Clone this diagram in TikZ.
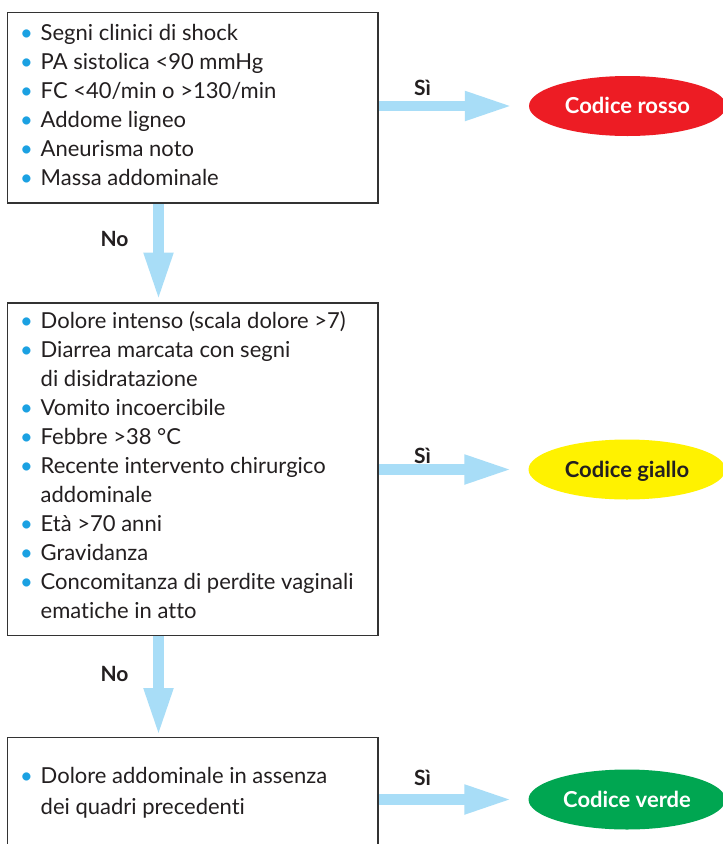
\documentclass[tikz,border=0pt]{standalone}
\usepackage{fontspec}
\setmainfont{Lato}[Ligatures={NoCommon}]
\usetikzlibrary{arrows.meta,shapes.geometric}
\definecolor{boxline}{HTML}{333333}
\definecolor{txt}{HTML}{231F20}
\definecolor{bul}{HTML}{1BA1E2}
\definecolor{arr}{HTML}{A8DDF7}
\definecolor{cred}{HTML}{ED1C24}
\definecolor{cyel}{HTML}{FFF200}
\definecolor{cgrn}{HTML}{00A651}
\newcommand\bl{\makebox[20.5pt][l]{\textcolor{bul}{•}}}
\newcommand\ind{\hspace*{20.5pt}}
\newcommand\fst{\rule{0pt}{18pt}}
\begin{document}
\begin{tikzpicture}[x=1pt,y=-1pt,
  frame/.style={draw=boxline,line width=1pt,inner sep=0pt,anchor=north west},
  listtext/.style={inner sep=0pt,anchor=north west,align=left,text=txt,font=\fontsize{22}{29}\selectfont},
  lab/.style={inner sep=0pt,anchor=base,text=txt,font=\bfseries\fontsize{21}{25}\selectfont},
  code/.style={ellipse,minimum width=197pt,minimum height=60pt,inner sep=0pt,text height=15.8pt,text depth=0pt,font=\bfseries\fontsize{22}{26}\selectfont},
  rarrow/.style={draw=arr,line width=10.5pt,-{Triangle[length=48pt,width=27pt]},shorten >=16pt},
  darrow/.style={draw=arr,line width=10.5pt,-{Triangle[length=48pt,width=27pt]}}
]
\useasboundingbox (0,0) rectangle (723,844);
\clip (0,0) rectangle (723,844);
\fill[white] (0,0) rectangle (723,844);

% code ellipses
\node[code,fill=cred,text=white] (r1) at (627.5,106) {Codice rosso};
\node[code,fill=cyel,text=txt] (r2) at (627,469.5) {Codice giallo};
\node[code,fill=cgrn,text=white] (r3) at (627,799.5) {Codice verde};

% boxes
\node[frame,minimum width=370pt,minimum height=190pt] (b1) at (7,12) {};
\node[frame,minimum width=370pt,minimum height=332pt] (b2) at (7,302.5) {};
\node[frame,minimum width=370pt,minimum height=130pt] (b3) at (7,737) {};
\coordinate (cx) at (158.5,0);

% arrows
\draw[rarrow] (b1.east |- r1.west) -- (r1.west);
\draw[rarrow] (b2.east |- r2.west) -- (r2.west);
\draw[rarrow] (b3.east |- r3.west) -- (r3.west);
\draw[darrow,shorten >=2pt] (b1.south -| cx) -- (b2.north -| cx);
\draw[darrow,shorten >=1pt] (b2.south -| cx) -- (b3.north -| cx);

% redraw box frames on top
\draw[draw=boxline,line width=1pt] (b1.north west) rectangle (b1.south east);
\draw[draw=boxline,line width=1pt] (b2.north west) rectangle (b2.south east);
\draw[draw=boxline,line width=1pt] (b3.north west) rectangle (b3.south east);

% labels
\node[lab] (s1) at (422.5,95) {Sì};
\node[lab] (s2) at (422.5,463.3) {Sì};
\node[lab] (s3) at (422.5,785) {Sì};
\node[lab] (n1) at (114.5,246.7) {No};
\node[lab] (n2) at (114.5,681.7) {No};

% texts
\node[listtext] (t1) at (20,22.5) {\fst\bl Segni clinici di shock\\
\bl PA sistolica <90 mmHg\\
\bl FC <40/min o >130/min\\
\bl Addome ligneo\\
\bl Aneurisma noto\\
\bl Massa addominale};

\node[listtext] (t2) at (20,310.3) {\fst\bl Dolore intenso (scala dolore >7)\\
\bl Diarrea marcata con segni\\
\ind di disidratazione\\
\bl Vomito incoercibile\\
\bl Febbre >38 °C\\
\bl Recente intervento chirurgico\\
\ind addominale\\
\bl Età >70 anni\\
\bl Gravidanza\\
\bl Concomitanza di perdite vaginali\\
\ind ematiche in atto};

\node[listtext,font=\fontsize{22}{31.5}\selectfont] (t3) at (20,765) {\fst\bl Dolore addominale in assenza\\
\ind dei quadri precedenti};
\end{tikzpicture}
\end{document}
